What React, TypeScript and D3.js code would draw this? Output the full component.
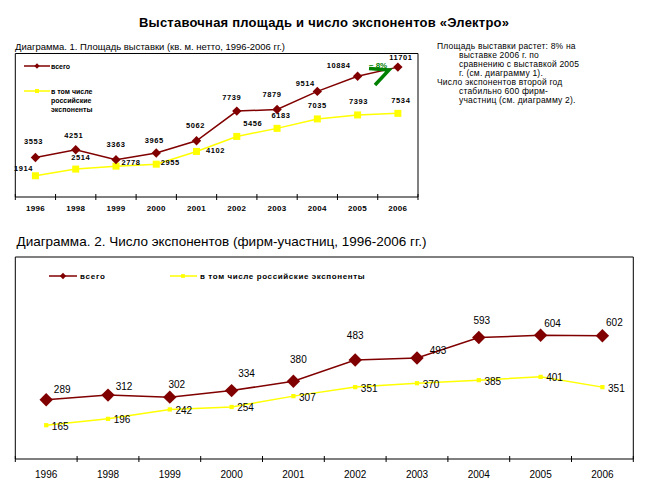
import React from "react";
import * as d3 from "d3";

const years = ["1996", "1998", "1999", "2000", "2001", "2002", "2003", "2004", "2005", "2006"];
const areaTotal = [3553, 4251, 3363, 3965, 5062, 7739, 7879, 9514, 10884, 11701];
const areaRussian = [1914, 2514, 2778, 2955, 4102, 5456, 6183, 7035, 7393, 7534];
const exhTotal = [289, 312, 302, 334, 380, 483, 493, 593, 604, 602];
const exhRussian = [165, 196, 242, 254, 307, 351, 370, 385, 401, 351];

const title = "Выставочная площадь и число экспонентов «Электро»";
const title1 = "Диаграмма. 1. Площадь выставки (кв. м. нетто, 1996-2006 гг.)";
const title2 = "Диаграмма. 2. Число экспонентов (фирм-участниц, 1996-2006 гг.)";
const legendTotal = "всего";
const legendRus1 = ["в  том числе", "российские", "экспоненты"];
const legendRus2 = "в том числе российские экспоненты";
const noteLines = [
  "Площадь выставки растет: 8% на",
  "выставке 2006 г. по",
  "сравнению с выставкой 2005",
  "г. (см. диаграмму 1).",
  "Число экспонентов второй год",
  "стабильно 600 фирм-",
  "участниц (см. диаграмму 2).",
];
const growthLabel = "~ 8%";

// label offsets (styling)
const off1T = [[-2, -16], [-2, -14], [0, -15], [-2, -12], [-1, -15], [-5, -14], [-5, -15], [-12, -8], [-19, -11], [3, -10]];
const off1R = [[-12, -7], [5, -12], [15, -4], [14, -2], [19, -1], [16, -13], [4, -13], [0, -13], [1, -13], [3, -13]];
const off2T = [[16, -10], [16, -9], [7, -13], [15, -17], [5, -22], [0, -25], [21, -8], [3, -17], [12, -12], [12, -13]];
const off2R = [[14, 1], [14, 1], [14, 1], [14, 1], [14, 1], [14, 1], [14, 1], [14, 1], [14, 1], [14, 1]];

const MAROON = "#800000";
const YELLOW = "#FFFF00";
const FONT = "Arial, 'Liberation Sans', sans-serif";

function Diamond({ x, y, size }: { x: number; y: number; size: number }) {
  const p = d3.symbol().type(d3.symbolSquare).size(size)() as string;
  return <path d={p} transform={`translate(${x},${y}) rotate(45)`} fill={MAROON} />;
}
function Square({ x, y, size }: { x: number; y: number; size: number }) {
  const p = d3.symbol().type(d3.symbolSquare).size(size)() as string;
  return <path d={p} transform={`translate(${x},${y})`} fill={YELLOW} />;
}

export default function App() {
  // Chart 1
  const x1 = d3.scaleBand<string>().domain(years).range([15.3, 418]);
  const y1 = d3.scaleLinear().domain([0, 12000]).range([197, 63.8]);
  const cx1 = (i: number) => (x1(years[i]) as number) + x1.bandwidth() / 2;
  const line1 = d3.line<number>().x((_, i) => cx1(i)).y((v) => y1(v));

  // Chart 2
  const x2 = d3.scaleBand<string>().domain(years).range([15.3, 633.3]);
  const y2 = d3.scaleLinear().domain([0, 1000]).range([459, 254.2]);
  const cx2 = (i: number) => (x2(years[i]) as number) + x2.bandwidth() / 2;
  const line2 = d3.line<number>().x((_, i) => cx2(i)).y((v) => y2(v));

  const ticks1 = d3.range(years.length + 1).map((i) => 15.3 + i * x1.step());
  const ticks2 = d3.range(years.length + 1).map((i) => 15.3 + i * x2.step());

  return (
    <svg width={649} height={499} style={{ position: "absolute", left: 0, top: 0, background: "#fff" }} fontFamily={FONT}>
      <rect width={649} height={499} fill="#fff" />
      <text x={324} y={27} textAnchor="middle" fontSize={13} fontWeight="bold" textLength={370} lengthAdjust="spacing">{title}</text>

      {/* Chart 1 */}
      <text x={15} y={50} fontSize={9.5} textLength={270} lengthAdjust="spacingAndGlyphs">{title1}</text>
      <path d="M15.3,197V53.5H418V197" fill="none" stroke="#000" strokeWidth={1} />
      <line x1={15.3} x2={418} y1={197} y2={197} stroke="#000" strokeWidth={1.2} />
      {ticks1.map((t, i) => <line key={i} x1={t} x2={t} y1={194} y2={200} stroke="#000" />)}
      {years.map((yv, i) => (
        <text key={yv} x={cx1(i)} y={211} textAnchor="middle" fontSize={8} fontWeight="bold" letterSpacing={0.3}>{yv}</text>
      ))}
      {/* legend */}
      <line x1={24} x2={50} y1={66} y2={66} stroke={MAROON} strokeWidth={1.5} />
      <Diamond x={37} y={66} size={14} />
      <text x={51} y={68.5} fontSize={7} fontWeight="bold">{legendTotal}</text>
      <line x1={24} x2={50} y1={91} y2={91} stroke={YELLOW} strokeWidth={1.5} />
      <Square x={37} y={91} size={16} />
      {legendRus1.map((t, i) => (
        <text key={i} x={51} y={93.5 + i * 9} fontSize={7} fontWeight="bold">{t}</text>
      ))}

      <path d={line1(areaRussian) as string} fill="none" stroke={YELLOW} strokeWidth={1.5} />
      <path d={line1(areaTotal) as string} fill="none" stroke={MAROON} strokeWidth={1.5} />
      {areaRussian.map((v, i) => <Square key={i} x={cx1(i)} y={y1(v)} size={49} />)}
      {areaTotal.map((v, i) => <Diamond key={i} x={cx1(i)} y={y1(v)} size={44} />)}
      {areaTotal.map((v, i) => (
        <text key={i} x={cx1(i) + off1T[i][0]} y={y1(v) + off1T[i][1] + 2.5} textAnchor="middle" fontSize={7.5} fontWeight="bold" letterSpacing={0.6}>{v}</text>
      ))}
      {areaRussian.map((v, i) => (
        <text key={i} x={cx1(i) + off1R[i][0]} y={y1(v) + off1R[i][1] + 2.5} textAnchor="middle" fontSize={7.5} fontWeight="bold" letterSpacing={0.6}>{v}</text>
      ))}
      {/* growth arrow */}
      <polyline points="369,68.5 389,70 375,85" fill="none" stroke="#008000" strokeWidth={3.5} strokeLinejoin="miter" />
      <text x={378} y={68} textAnchor="middle" fontSize={8} fontWeight="bold" fill="#008000">{growthLabel}</text>

      {/* notes */}
      {noteLines.map((t, i) => (
        <text key={i} x={i === 0 || i === 4 ? 437 : 459} y={49 + i * 9} fontSize={8.5} letterSpacing={0.2}>{t}</text>
      ))}

      {/* Chart 2 */}
      <text x={16.5} y={246} fontSize={13} textLength={410} lengthAdjust="spacingAndGlyphs">{title2}</text>
      <path d="M15.3,459V257H633.3V459" fill="none" stroke="#000" strokeWidth={1} />
      <line x1={15.3} x2={633.3} y1={459} y2={459} stroke="#000" strokeWidth={1.2} />
      {ticks2.map((t, i) => <line key={i} x1={t} x2={t} y1={456} y2={462} stroke="#000" />)}
      {years.map((yv, i) => (
        <text key={yv} x={cx2(i)} y={477.5} textAnchor="middle" fontSize={10}>{yv}</text>
      ))}
      <line x1={49} x2={77} y1={276} y2={276} stroke={MAROON} strokeWidth={1.5} />
      <Diamond x={63} y={276} size={20} />
      <text x={80} y={279} fontSize={8} fontWeight="bold" letterSpacing={0.8}>{legendTotal}</text>
      <line x1={170} x2={197} y1={276} y2={276} stroke={YELLOW} strokeWidth={1.5} />
      <Square x={183} y={276} size={14} />
      <text x={200} y={279} fontSize={8} fontWeight="bold" letterSpacing={0.6}>{legendRus2}</text>

      <path d={line2(exhRussian) as string} fill="none" stroke={YELLOW} strokeWidth={1.5} />
      <path d={line2(exhTotal) as string} fill="none" stroke={MAROON} strokeWidth={1.5} />
      {exhRussian.map((v, i) => <Square key={i} x={cx2(i)} y={y2(v)} size={18} />)}
      {exhTotal.map((v, i) => <Diamond key={i} x={cx2(i)} y={y2(v)} size={90} />)}
      {exhTotal.map((v, i) => (
        <text key={i} x={cx2(i) + off2T[i][0]} y={y2(v) + off2T[i][1] + 3.5} textAnchor="middle" fontSize={10}>{v}</text>
      ))}
      {exhRussian.map((v, i) => (
        <text key={i} x={cx2(i) + off2R[i][0]} y={y2(v) + off2R[i][1] + 3.5} textAnchor="middle" fontSize={10}>{v}</text>
      ))}
    </svg>
  );
}
